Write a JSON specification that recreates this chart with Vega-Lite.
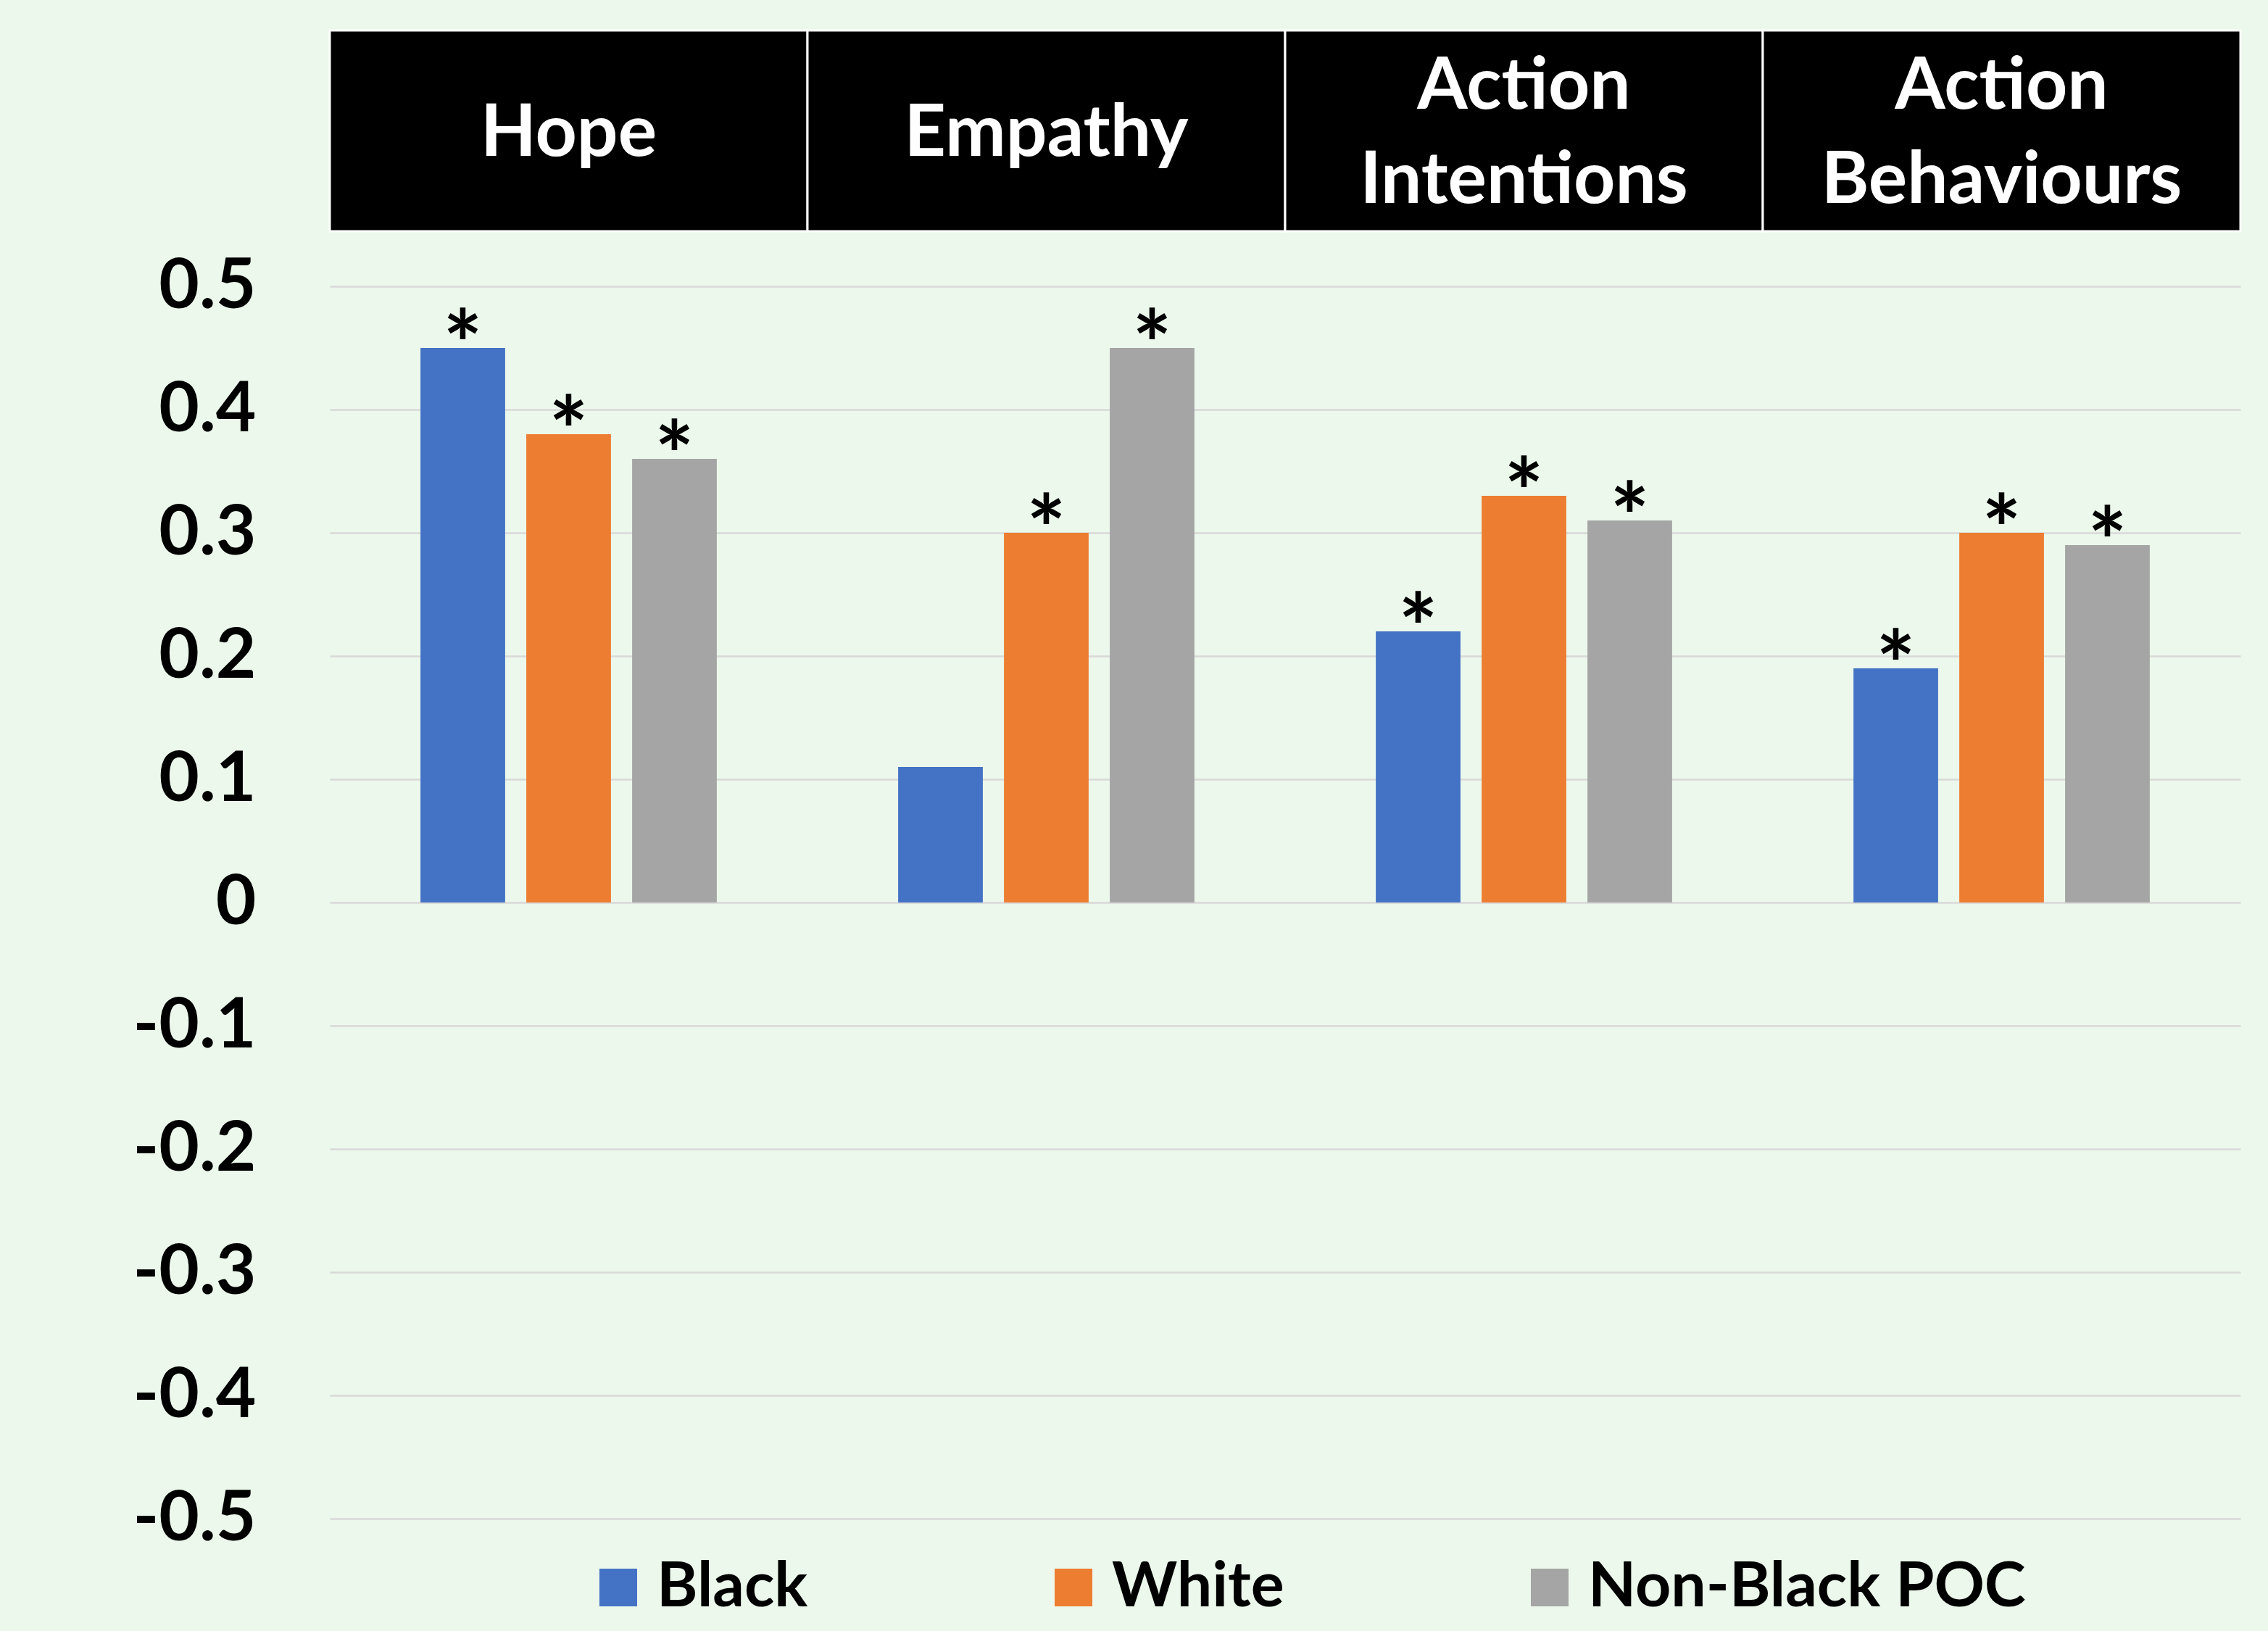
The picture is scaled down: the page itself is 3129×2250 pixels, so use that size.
{
  "$schema": "https://vega.github.io/schema/vega-lite/v6.json",
  "background": "#EBF8EB",
  "padding": {"left": 183, "top": 40, "right": 39, "bottom": 19},
  "bounds": "flush",
  "spacing": 76,
  "config": {"view": {"stroke": null}, "font": "Lato"},
  "datasets": {
    "headers": [
      {"measure": "Hope"},
      {"measure": "Empathy"},
      {"measure": "Action Intentions"},
      {"measure": "Action Behaviours"}
    ],
    "scores": [
      {"measure": "Hope", "group": "Black", "value": 0.45, "sig": "*"},
      {"measure": "Hope", "group": "White", "value": 0.38, "sig": "*"},
      {"measure": "Hope", "group": "Non-Black POC", "value": 0.36, "sig": "*"},
      {"measure": "Empathy", "group": "Black", "value": 0.11, "sig": ""},
      {"measure": "Empathy", "group": "White", "value": 0.30, "sig": "*"},
      {"measure": "Empathy", "group": "Non-Black POC", "value": 0.45, "sig": "*"},
      {"measure": "Action Intentions", "group": "Black", "value": 0.22, "sig": "*"},
      {"measure": "Action Intentions", "group": "White", "value": 0.33, "sig": "*"},
      {"measure": "Action Intentions", "group": "Non-Black POC", "value": 0.31, "sig": "*"},
      {"measure": "Action Behaviours", "group": "Black", "value": 0.19, "sig": "*"},
      {"measure": "Action Behaviours", "group": "White", "value": 0.30, "sig": "*"},
      {"measure": "Action Behaviours", "group": "Non-Black POC", "value": 0.29, "sig": "*"}
    ]
  },
  "vconcat": [
    {
      "width": 2636,
      "height": 277,
      "data": {"name": "headers"},
      "encoding": {
        "x": {"field": "measure", "type": "nominal", "sort": ["Hope", "Empathy", "Action Intentions", "Action Behaviours"], "scale": {"paddingInner": 0, "paddingOuter": 0}, "axis": null}
      },
      "layer": [
        {"mark": {"type": "rect", "fill": "black", "stroke": "white", "strokeWidth": 3}},
        {"transform": [{"filter": "indexof(datum.measure, ' ') < 0"}],
         "mark": {"type": "text", "color": "white", "font": "Lato", "fontSize": 100, "fontWeight": "bold", "baseline": "middle", "align": "center", "dy": 4},
         "encoding": {"text": {"field": "measure"}}},
        {"transform": [{"filter": "indexof(datum.measure, ' ') >= 0"}],
         "mark": {"type": "text", "color": "white", "font": "Lato", "fontSize": 100, "fontWeight": "bold", "lineBreak": " ", "lineHeight": 130, "baseline": "middle", "align": "center", "dy": -61},
         "encoding": {"text": {"field": "measure"}}}
      ]
    },
    {
      "width": 2636,
      "height": 1700,
      "data": {"name": "scores"},
      "encoding": {
        "x": {"field": "measure", "type": "nominal", "sort": ["Hope", "Empathy", "Action Intentions", "Action Behaviours"], "scale": {"paddingInner": 0, "paddingOuter": 0}, "axis": null},
        "xOffset": {"field": "group", "type": "nominal", "sort": ["Black", "White", "Non-Black POC"], "scale": {"paddingInner": 0.2, "paddingOuter": 0.857}},
        "y": {
          "field": "value", "type": "quantitative",
          "scale": {"domain": [-0.5, 0.5], "nice": false, "zero": false},
          "axis": {
            "title": null,
            "values": [-0.5, -0.4, -0.3, -0.2, -0.1, 0, 0.1, 0.2, 0.3, 0.4, 0.5],
            "labelExpr": "abs(datum.value) < 1e-9 ? '0' : (datum.value < 0 ? '-' : '') + format(abs(datum.value), '.1f')",
            "labelFont": "Lato", "labelFontSize": 96, "labelFontWeight": "bold", "labelColor": "black",
            "labelPadding": 102, "ticks": false, "domain": false,
            "grid": true, "gridColor": "#D9D9D9", "gridWidth": 2.5
          }
        }
      },
      "layer": [
        {
          "mark": {"type": "bar"},
          "encoding": {
            "color": {
              "field": "group", "type": "nominal", "sort": ["Black", "White", "Non-Black POC"],
              "scale": {"domain": ["Black", "White", "Non-Black POC"], "range": ["#4472C4", "#ED7D31", "#A5A5A5"]},
              "legend": {
                "orient": "none", "legendX": 355, "legendY": 2105, "direction": "horizontal", "title": null,
                "symbolType": "square", "symbolSize": 2704, "symbolStrokeWidth": 0, "symbolOpacity": 1,
                "labelFont": "Lato", "labelFontSize": 86, "labelFontWeight": "bold", "labelColor": "black",
                "labelOffset": 10, "columnPadding": 323, "labelLimit": 2000
              }
            }
          }
        },
        {
          "mark": {"type": "text", "font": "Lato", "fontSize": 128, "fontWeight": "bold", "baseline": "alphabetic", "dy": 42, "color": "black"},
          "encoding": {"text": {"field": "sig"}}
        }
      ]
    }
  ]
}
